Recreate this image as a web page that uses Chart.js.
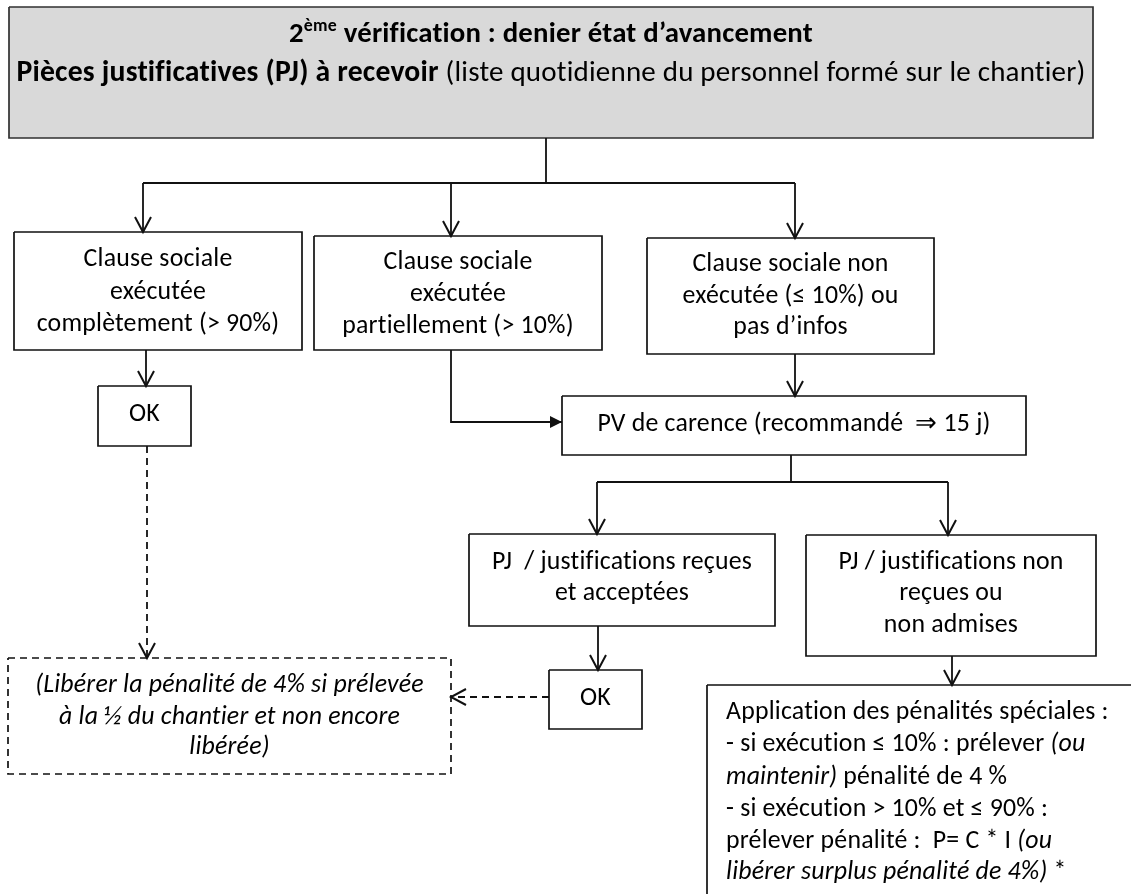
<!DOCTYPE html>
<html><head><meta charset="utf-8">
<script src="https://cdn.jsdelivr.net/npm/chart.js@4/dist/chart.umd.min.js"></script>
<style>html,body{margin:0;padding:0;background:#fff}#wrap{width:1131px;height:894px;position:relative}</style>
</head><body><div id="wrap"><canvas id="c"></canvas></div>
<script>
// ---------- text content ----------
const headerLine1 = ["2", "ème", " vérification : denier état d’avancement"];
const headerLine2Bold = "Pièces justificatives (PJ) à recevoir";
const headerLine2Rest = " (liste quotidienne du personnel formé sur le chantier)";
const fullExecLines = ["Clause sociale", "exécutée", "complètement (> 90%)"];
const partExecLines = ["Clause sociale", "exécutée", "partiellement (> 10%)"];
const noExecLines = ["Clause sociale non", "exécutée (≤ 10%) ou", "pas d’infos"];
const okLabel = ["OK"];
const pvLabel = ["PV de carence (recommandé  ⇒ 15 j)"];
const pjOkLines = ["PJ  / justifications reçues", "et acceptées"];
const pjNoLines = ["PJ / justifications non", "reçues ou", "non admises"];
const noteLines = ["(Libérer la pénalité de 4% si prélevée", "à la ½ du chantier et non encore", "libérée)"];
// segments: [text, italic?]
const penaltyLines = [
  [["Application des pénalités spéciales :", 0]],
  [["- si exécution ≤ 10% : prélever ", 0], ["(ou", 1]],
  [["maintenir)", 1], [" pénalité de 4 %", 0]],
  [["- si exécution > 10% et ≤ 90% :", 0]],
  [["prélever pénalité :  P= C * I ", 0], ["(ou", 1]],
  [["libérer surplus pénalité de 4%)", 1], [" *", 0]]
];

// ---------- layout (diagram units) ----------
const FRAME = {w: 1131, h: 894};
const boxes = {
  header:  {x0: 9,   x1: 1093, y0: 7,   y1: 138, fill: '#d9d9d9', stroke: '#303030'},
  full:    {x0: 14,  x1: 302,  y0: 232, y1: 350},
  part:    {x0: 314, x1: 602,  y0: 236, y1: 350},
  none:    {x0: 647, x1: 934,  y0: 238, y1: 354},
  ok1:     {x0: 98,  x1: 191,  y0: 386, y1: 446},
  pv:      {x0: 562, x1: 1026, y0: 396, y1: 455},
  pjOk:    {x0: 469, x1: 775,  y0: 534, y1: 626},
  pjNo:    {x0: 806, x1: 1096, y0: 535, y1: 656},
  ok2:     {x0: 549, x1: 642,  y0: 670, y1: 729},
  note:    {x0: 8,   x1: 451,  y0: 658, y1: 774, dash: true},
  penalty: {x0: 707, x1: 1145, y0: 685, y1: 910}
};
const links = [
  {pts: [[546,138],[546,183]]},
  {pts: [[143,183],[795,183]]},
  {pts: [[143,183],[143,232]], head: 'open'},
  {pts: [[451,183],[451,236]], head: 'open'},
  {pts: [[795,183],[795,238]], head: 'open'},
  {pts: [[146,350],[146,386]], head: 'open'},
  {pts: [[451,350],[451,422],[562,422]], head: 'filled'},
  {pts: [[795,354],[795,396]], head: 'open'},
  {pts: [[791,455],[791,482]]},
  {pts: [[597,482],[948,482]]},
  {pts: [[597,482],[597,534]], head: 'open'},
  {pts: [[948,482],[948,535]], head: 'open'},
  {pts: [[598,626],[598,670]], head: 'open'},
  {pts: [[952,656],[952,685]], head: 'open'},
  {pts: [[147,446],[147,658]], head: 'open', dash: true},
  {pts: [[549,697],[451,697]], head: 'open', dash: true}
];
const FONT = "Carlito, Lato, 'Open Sans', sans-serif";

// ---------- datasets ----------
const datasets = [];
Object.keys(boxes).forEach(k => {
  const b = boxes[k];
  datasets.push({
    type: 'line', label: k,
    data: [{x:b.x0,y:b.y0},{x:b.x1,y:b.y0},{x:b.x1,y:b.y1},{x:b.x0,y:b.y1},{x:b.x0,y:b.y0}],
    borderColor: b.stroke || '#111', borderWidth: 1.7, borderDash: b.dash ? [7,5] : [],
    pointRadius: 0, fill: false, tension: 0, borderJoinStyle: 'miter', order: 1
  });
});
links.forEach((l, i) => {
  datasets.push({
    type: 'line', label: 'link' + i,
    data: l.pts.map(p => ({x: p[0], y: p[1]})),
    borderColor: '#111', borderWidth: 1.8, borderDash: l.dash ? [7,5] : [],
    pointRadius: 0, fill: false, tension: 0, head: l.head, order: 0
  });
});

function fitSize(ctx, text, style, target) {
  ctx.font = style + ' 20px ' + FONT;
  return 20 * target / ctx.measureText(text).width;
}

const diagramPlugin = {
  id: 'diagram',
  beforeDatasetsDraw(chart) {
    const {ctx, scales: {x, y}} = chart;
    const b = boxes.header;
    ctx.save();
    ctx.fillStyle = b.fill;
    const X0 = x.getPixelForValue(b.x0), X1 = x.getPixelForValue(b.x1);
    const Y0 = y.getPixelForValue(b.y0), Y1 = y.getPixelForValue(b.y1);
    ctx.fillRect(X0, Y0, X1 - X0, Y1 - Y0);
    ctx.restore();
  },
  afterDatasetsDraw(chart) {
    const {ctx, scales: {x, y}} = chart;
    const X = v => x.getPixelForValue(v), Y = v => y.getPixelForValue(v);
    ctx.save();
    // arrowheads
    chart.data.datasets.forEach(ds => {
      if (!ds.head) return;
      const n = ds.data.length;
      const a = ds.data[n-2], t = ds.data[n-1];
      const ax = X(a.x), ay = Y(a.y), tx = X(t.x), ty = Y(t.y);
      const ang = Math.atan2(ty - ay, tx - ax);
      ctx.setLineDash([]);
      ctx.strokeStyle = '#111'; ctx.fillStyle = '#111';
      if (ds.head === 'open') {
        const L = 15, Wd = 8;
        const bx = tx - L*Math.cos(ang), by = ty - L*Math.sin(ang);
        const nx = -Math.sin(ang)*Wd, ny = Math.cos(ang)*Wd;
        ctx.lineWidth = 2;
        ctx.beginPath();
        ctx.moveTo(bx + nx, by + ny); ctx.lineTo(tx, ty); ctx.lineTo(bx - nx, by - ny);
        ctx.stroke();
      } else {
        const L = 12, Wd = 6;
        const bx = tx - L*Math.cos(ang), by = ty - L*Math.sin(ang);
        const nx = -Math.sin(ang)*Wd, ny = Math.cos(ang)*Wd;
        ctx.beginPath();
        ctx.moveTo(bx + nx, by + ny); ctx.lineTo(tx, ty); ctx.lineTo(bx - nx, by - ny);
        ctx.closePath(); ctx.fill();
      }
    });

    ctx.fillStyle = '#000';
    ctx.textBaseline = 'middle';
    if ('letterSpacing' in ctx) ctx.letterSpacing = '0.2px'; // avoid ligatures
    const base = fitSize(ctx, penaltyLines[0][0][0], 'normal', 385);
    const ital = fitSize(ctx, noteLines[0], 'italic', 391);
    const hdrBold = fitSize(ctx, headerLine2Bold, 'bold', 426);
    const hdrNorm = fitSize(ctx, headerLine2Rest, 'normal', 652);

    // header
    const hb = boxes.header, hc = X((hb.x0 + hb.x1) / 2);
    ctx.font = 'bold 20px ' + FONT;
    const r0 = ctx.measureText(headerLine1[0]).width + ctx.measureText(headerLine1[2]).width;
    ctx.font = 'bold 12.4px ' + FONT;
    const r1 = ctx.measureText(headerLine1[1]).width;
    const t1 = 20 * 528 / (r0 + r1);
    const supSize = t1 * 0.62;
    ctx.font = 'bold ' + t1 + 'px ' + FONT;
    const w0 = ctx.measureText(headerLine1[0]).width;
    const w2 = ctx.measureText(headerLine1[2]).width;
    ctx.font = 'bold ' + supSize + 'px ' + FONT;
    const w1 = ctx.measureText(headerLine1[1]).width;
    let sx = hc - (w0 + w1 + w2) / 2;
    ctx.textAlign = 'left';
    ctx.font = 'bold ' + t1 + 'px ' + FONT;
    ctx.fillText(headerLine1[0], sx, Y(35));
    ctx.font = 'bold ' + supSize + 'px ' + FONT;
    ctx.fillText(headerLine1[1], sx + w0, Y(27));
    ctx.font = 'bold ' + t1 + 'px ' + FONT;
    ctx.fillText(headerLine1[2], sx + w0 + w1, Y(35));
    ctx.font = 'bold ' + hdrBold + 'px ' + FONT;
    const wb = ctx.measureText(headerLine2Bold).width;
    ctx.font = hdrNorm + 'px ' + FONT;
    const wn = ctx.measureText(headerLine2Rest).width;
    sx = hc - (wb + wn) / 2;
    ctx.font = 'bold ' + hdrBold + 'px ' + FONT;
    ctx.fillText(headerLine2Bold, sx, Y(74));
    ctx.font = hdrNorm + 'px ' + FONT;
    ctx.fillText(headerLine2Rest, sx + wb, Y(74));

    const centred = (box, lines, ys, style, size) => {
      ctx.font = style + ' ' + size + 'px ' + FONT;
      ctx.textAlign = 'center';
      const cx = X((box.x0 + box.x1) / 2);
      lines.forEach((t, i) => ctx.fillText(t, cx, Y(ys[i])));
    };
    centred(boxes.full, fullExecLines, [260, 293, 325], 'normal', base);
    centred(boxes.part, partExecLines, [263, 295, 327], 'normal', base);
    centred(boxes.none, noExecLines, [265, 297, 328], 'normal', base);
    centred(boxes.ok1, okLabel, [415], 'normal', base);
    centred(boxes.pv, pvLabel, [425], 'normal', base);
    centred(boxes.pjOk, pjOkLines, [563, 594], 'normal', base);
    centred(boxes.pjNo, pjNoLines, [563, 594, 626], 'normal', base);
    centred(boxes.ok2, okLabel, [699], 'normal', base);
    centred(boxes.note, noteLines, [686, 718, 748], 'italic', ital);

    ctx.textAlign = 'left';
    const pys = [713, 745, 778, 810, 842, 873];
    penaltyLines.forEach((segs, i) => {
      let px = X(726);
      segs.forEach(([t, it]) => {
        ctx.font = (it ? 'italic ' + ital : 'normal ' + base) + 'px ' + FONT;
        ctx.fillText(t, px, Y(pys[i]));
        px += ctx.measureText(t).width;
      });
    });
    ctx.restore();
  }
};

new Chart(document.getElementById('c'), {
  type: 'scatter',
  data: {datasets},
  options: {
    responsive: true, maintainAspectRatio: false, animation: false,
    layout: {padding: 0},
    plugins: {legend: {display: false}, tooltip: {enabled: false}},
    scales: {
      x: {type: 'linear', min: 0, max: FRAME.w, display: false},
      y: {type: 'linear', min: 0, max: FRAME.h, reverse: true, display: false}
    }
  },
  plugins: [diagramPlugin]
});
</script></body></html>
